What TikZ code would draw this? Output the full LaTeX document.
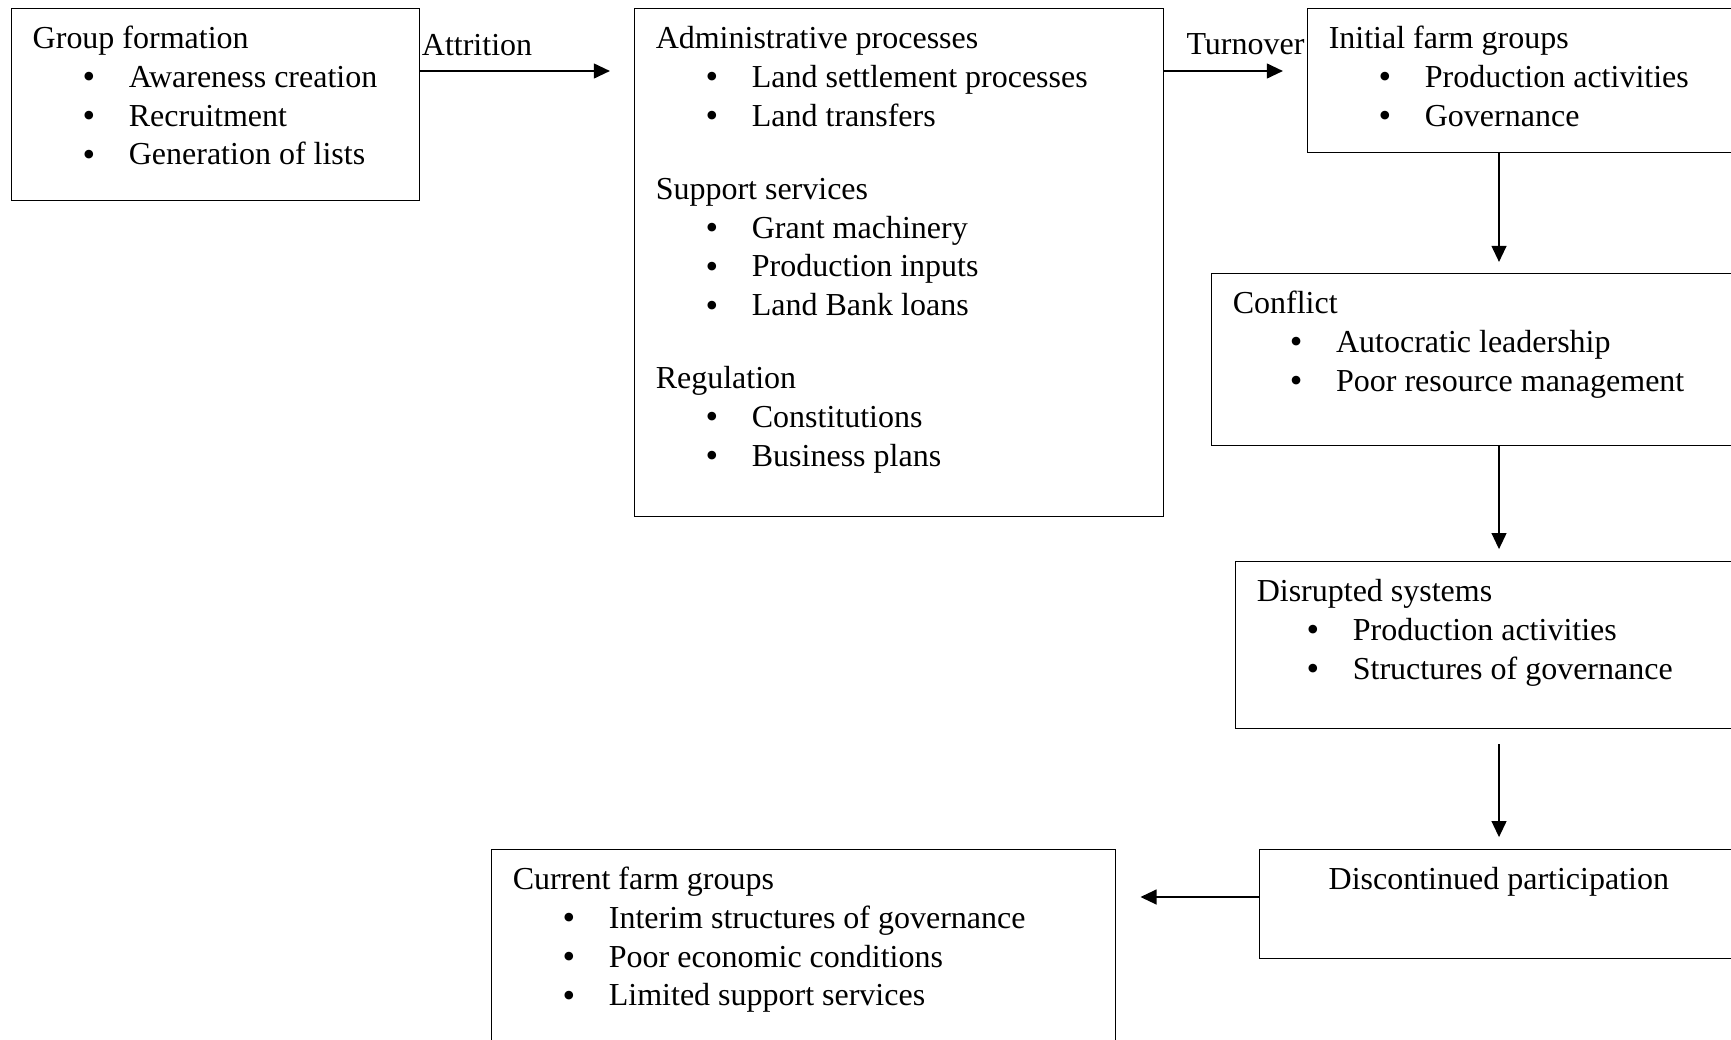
\documentclass[tikz,border=0pt]{standalone}
\usepackage{fontspec}
\setmainfont{Liberation Serif}
\usetikzlibrary{arrows.meta,calc}
\newdimen\px \px=0.361pt
\newcommand{\stagebody}[3]{\parbox[c][#2\px][t]{\dimexpr#1\px-15.2pt\relax}{\rule{0pt}{14.4pt}#3}}
\newcommand{\bitem}[2][0pt]{\\\hspace*{\dimexpr18pt+#1\relax}\makebox[16.7pt][l]{\raisebox{-0.5pt}{\fontsize{13}{14}\selectfont\textbullet}}#2}

\begin{document}
\begin{tikzpicture}[x=0.361pt,y=-0.361pt,every node/.style={font=\fontsize{11.55}{14}\selectfont},stage/.style={draw,line width=0.5pt,anchor=north west,inner xsep=7.6pt,inner ysep=0pt},flow/.style={-{Triangle[length=5.8pt,width=5.4pt]},line width=0.5pt},tag/.style={inner sep=0pt}]
\useasboundingbox (0,0) rectangle (1731,1039);
\clip (0,0) rectangle (1731,1039);
\node[stage] (grp) at (11,8) {\stagebody{408}{192}{Group formation
\bitem{Awareness creation}\bitem{Recruitment}\bitem{Generation of lists}}};
\node[stage] (adm) at (634,8) {\stagebody{529}{508}{Administrative processes
\bitem{Land settlement processes}\bitem{Land transfers}\\[12.4pt]
Support services
\bitem{Grant machinery}\bitem{Production inputs}\bitem{Land Bank loans}\\[12.4pt]
Regulation
\bitem{Constitutions}\bitem{Business plans}}};
\node[stage] (ini) at (1307,8) {\stagebody{500}{144}{Initial farm groups
\bitem{Production activities}\bitem{Governance}}};
\node[stage] (con) at (1211,273) {\stagebody{600}{172}{Conflict
\bitem[2.6pt]{Autocratic leadership}\bitem[2.6pt]{Poor resource management}}};
\node[stage] (dis) at (1235,561) {\stagebody{580}{167}{Disrupted systems
\bitem{Production activities}\bitem{Structures of governance}}};
\node[stage] (dsc) at (1259,849) {\stagebody{550}{109}{\hspace*{17.3pt}Discontinued participation}};
\node[stage] (cur) at (491,849) {\stagebody{624}{260}{Current farm groups
\bitem{Interim structures of governance}\bitem{Poor economic conditions}\bitem{Limited support services}}};
% labels on the top arrows
\node[tag,anchor=base west] (att) at ($(grp.north east)+(1,47)$) {Attrition};
\node[tag,anchor=base east] (trn) at ($(ini.north west)+(-2,46)$) {Turnover};
\draw[flow,shorten >=8.7pt] ($(grp.north east)+(0,63)$) -- ($(adm.north west)+(0,63)$);
\draw[flow,shorten >=8.7pt] ($(adm.north east)+(0,63)$) -- ($(ini.north west)+(0,63)$);
\draw[flow,shorten >=4pt] ($(ini.south west)+(192,0)$) -- ($(con.north west)+(288,0)$);
\draw[flow,shorten >=4.3pt] ($(con.south west)+(288,0)$) -- ($(dis.north west)+(264,0)$);
\draw[flow,shorten <=5.4pt,shorten >=4.3pt] ($(dis.south west)+(264,0)$) -- ($(dsc.north west)+(240,0)$);
\draw[flow,shorten >=8.7pt] ($(dsc.north west)+(0,48)$) -- ($(cur.north east)+(0,48)$);
\end{tikzpicture}
\end{document}
